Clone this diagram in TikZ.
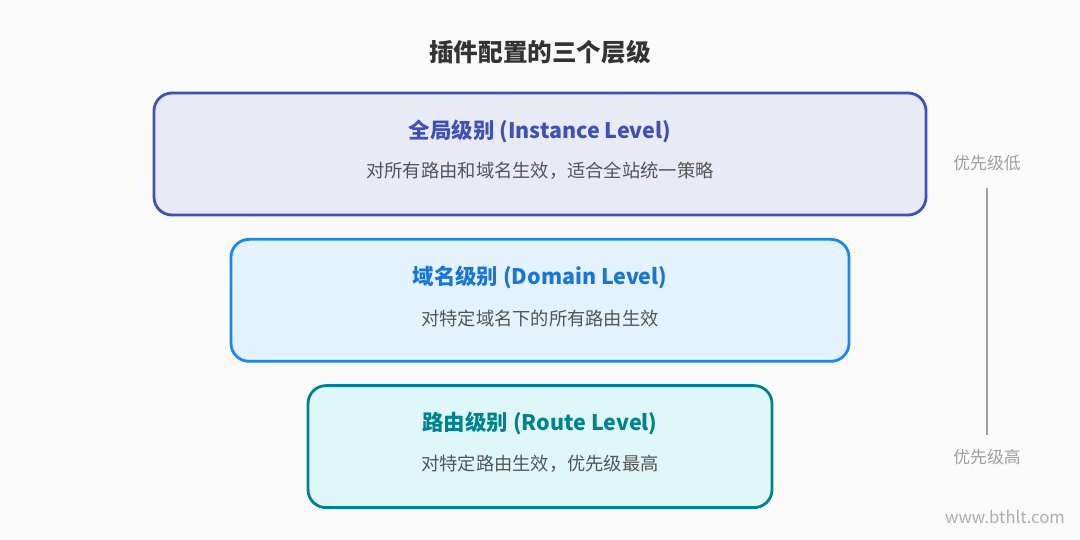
\documentclass[tikz,border=0pt]{standalone}
\usepackage{fontspec}
\setmainfont{Noto Sans CJK SC}
\usetikzlibrary{positioning}

\definecolor{bgcol}{HTML}{FAFAFA}
\definecolor{titlecol}{HTML}{333333}
\definecolor{desccol}{HTML}{555555}
\definecolor{prio}{HTML}{A0A0A0}
\definecolor{instline}{HTML}{3F51B5}
\definecolor{instfill}{HTML}{E8EAF6}
\definecolor{domline}{HTML}{1E88E5}
\definecolor{domfill}{HTML}{E3F2FD}
\definecolor{domtext}{HTML}{1976D2}
\definecolor{routeline}{HTML}{00838F}
\definecolor{routefill}{HTML}{E0F7FA}

\begin{document}
\begin{tikzpicture}[node distance=0.43cm, auto]
    \tikzset{
      levelnode/.style={rectangle,rounded corners=0.36cm,line width=1.6pt,minimum height=2.44cm,inner sep=0pt},
      headlabel/.style={font=\fontsize{12.2}{14}\selectfont\bfseries,inner sep=0pt},
      desclabel/.style={font=\fontsize{10.4}{12}\selectfont,text=desccol,inner sep=0pt},
      priolabel/.style={font=\fontsize{9.6}{11}\selectfont,text=prio,inner sep=0pt}
    }
    \fill[bgcol] (0,0) rectangle (21.6,-10.8);
    \useasboundingbox (0,0) rectangle (21.6,-10.8);

    \node[font=\fontsize{14}{16}\selectfont\bfseries,text=titlecol](title) at (10.8,-1.04){插件配置的三个层级};

    \node[levelnode,draw=instline,fill=instfill,minimum width=15.44cm](instance) at (10.8,-3.08){};
    \node[levelnode,draw=domline,fill=domfill,minimum width=12.36cm,below=of instance](domain){};
    \node[levelnode,draw=routeline,fill=routefill,minimum width=9.28cm,below=of domain](route){};

    \node[headlabel,text=instline](instancehead) at ([yshift=0.46cm]instance.center){全局级别 (Instance Level)};
    \node[desclabel](instancedesc) at ([yshift=-0.34cm]instance.center){对所有路由和域名生效，适合全站统一策略};
    \node[headlabel,text=domtext](domainhead) at ([yshift=0.46cm]domain.center){域名级别 (Domain Level)};
    \node[desclabel](domaindesc) at ([yshift=-0.36cm]domain.center){对特定域名下的所有路由生效};
    \node[headlabel,text=routeline](routehead) at ([yshift=0.46cm]route.center){路由级别 (Route Level)};
    \node[desclabel](routedesc) at ([yshift=-0.34cm]route.center){对特定路由生效，优先级最高};

    \node[priolabel](low) at (19.74,-3.26){优先级低};
    \node[priolabel](high) at (19.74,-9.14){优先级高};
    \coordinate (linetop) at ([yshift=-0.34cm]low.south);
    \coordinate (linebottom) at ([yshift=0.28cm]high.north);
    \draw[prio,line width=1.3pt](linetop) -- (linebottom);
    \node[font=\fontsize{9.5}{11}\selectfont,text=prio!85](site) at (20.1,-10.34){www.bthlt.com};
\end{tikzpicture}
\end{document}
